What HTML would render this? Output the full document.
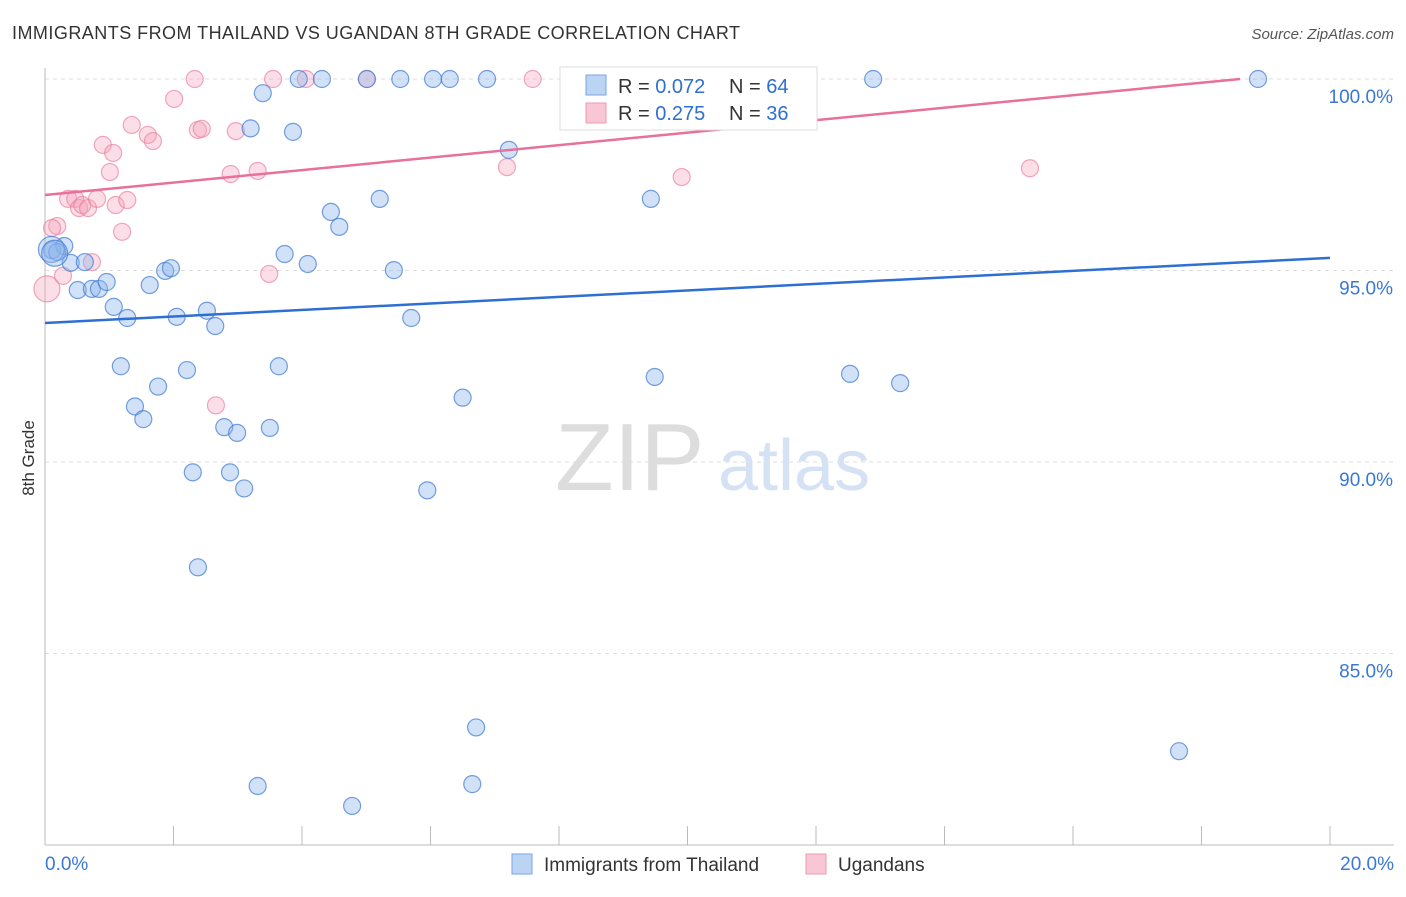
<!DOCTYPE html>
<html><head><meta charset="utf-8">
<style>
body{margin:0;background:#fff;font-family:"Liberation Sans",sans-serif;}
svg text{font-family:"Liberation Sans",sans-serif;}
</style></head>
<body>
<svg id="chart" width="1406" height="892" viewBox="0 0 1406 892">
<text x="12" y="39" font-size="18" fill="#333" textLength="728">IMMIGRANTS FROM THAILAND VS UGANDAN 8TH GRADE CORRELATION CHART</text>
<text x="1394" y="39" font-size="15" fill="#555" font-style="italic" text-anchor="end">Source: ZipAtlas.com</text>
<text x="34" y="458" font-size="17" fill="#333" text-anchor="middle" transform="rotate(-90 34 458)">8th Grade</text>
<g id="grid"></g>
<g id="axes"></g>
<text x="555" y="490" font-size="96" fill="#ddd" font-family="Liberation Serif">ZIP</text>
<text x="718" y="490" font-size="72" fill="#d4e2f4">atlas</text>
<g id="marks"></g>
<g>
<rect x="560" y="67" width="257" height="63" fill="#fff" stroke="#ddd"/>
<rect x="586" y="75" width="20" height="20" fill="#bcd4f4" stroke="#7aa6e0"/>
<text x="618" y="93" font-size="20" fill="#333">R = <tspan fill="#2f6fd0">0.072</tspan></text>
<text x="729" y="93" font-size="20" fill="#333">N = <tspan fill="#2f6fd0">64</tspan></text>
<rect x="586" y="103" width="20" height="20" fill="#f8c6d4" stroke="#ec9ab2"/>
<text x="618" y="120" font-size="20" fill="#333">R = <tspan fill="#2f6fd0">0.275</tspan></text>
<text x="729" y="120" font-size="20" fill="#333">N = <tspan fill="#2f6fd0">36</tspan></text>
</g>
<g>
<rect x="512" y="854" width="20" height="20" fill="#bcd4f4" stroke="#7aa6e0"/>
<text x="544" y="871" font-size="19" fill="#333">Immigrants from Thailand</text>
<rect x="806" y="854" width="20" height="20" fill="#f8c6d4" stroke="#ec9ab2"/>
<text x="838" y="871" font-size="19" fill="#333">Ugandans</text>
</g>
</svg>
<script>
const yTicks=[100,95,90,85];
const yTickLabels=["100.0%","95.0%","90.0%","85.0%"];
const xTickLabels=["0.0%","20.0%"];
const blueX=[0.11,0.3,0.19,0.4,0.62,0.51,0.73,0.84,0.96,1.07,1.28,1.18,1.4,1.53,1.63,1.76,1.87,1.96,2.05,2.21,2.3,2.38,2.52,2.65,2.79,2.88,2.99,3.1,3.2,3.31,3.39,3.5,3.64,3.73,3.86,3.95,4.09,4.31,4.45,4.58,4.78,5.01,5.21,5.43,5.53,5.7,5.95,6.04,6.3,6.5,6.65,6.71,6.88,7.22,8.5,9.43,9.49,11.3,11.56,12.53,12.89,13.31,17.65,18.88,0.1,0.15];
const blueY=[95.53,95.64,95.48,95.2,95.22,94.49,94.52,94.52,94.7,94.05,93.76,92.5,91.45,91.12,94.62,91.97,94.99,95.06,93.79,92.4,89.73,87.25,93.95,93.55,90.91,89.73,90.76,89.31,98.71,81.54,99.63,90.89,92.5,95.43,98.62,100,95.17,100,96.53,96.14,81.02,100,96.87,95.01,100,93.76,89.26,100,100,91.68,81.59,83.07,100,98.15,100,96.87,92.22,100,100,92.3,100,92.06,82.45,100,95.55,95.45];
const pinkX=[0.03,0.19,0.11,0.28,0.36,0.47,0.53,0.58,0.67,0.73,0.81,0.9,1.01,1.06,1.1,1.2,1.28,1.35,1.6,1.68,2.01,2.33,2.38,2.44,2.89,2.97,3.31,3.49,3.55,4.06,2.66,5.01,7.19,7.59,9.91,15.33];
const pinkY=[94.52,96.16,96.11,94.86,96.87,96.87,96.63,96.71,96.63,95.22,96.87,98.28,97.57,98.07,96.71,96.01,96.84,98.8,98.54,98.38,99.48,100,98.67,98.7,97.52,98.64,97.6,94.91,100,100,91.48,100,97.7,100,97.44,97.67];
const blueTrend=[93.63,95.33];
const pinkTrend=[96.97,100.0];
const pinkTrendEnd=18.6;

const NS="http://www.w3.org/2000/svg";
const xs=v=>45+v/20*1285;
const ys=v=>79+(100-v)*38.3;
function el(tag,attrs,parent){const e=document.createElementNS(NS,tag);for(const k in attrs)e.setAttribute(k,attrs[k]);parent.appendChild(e);return e;}
const grid=document.getElementById('grid'),axes=document.getElementById('axes'),marks=document.getElementById('marks');
yTicks.forEach((t,i)=>{
 const g=el('line',{x1:45,x2:1394,y1:ys(t),y2:ys(t),stroke:'#ddd','stroke-dasharray':'4,4'},grid);
 
 
 const tx=el('text',{x:1393,y:ys(t)+24,'font-size':19,fill:'#3a78d4','text-anchor':'end'},axes);
 tx.textContent=yTickLabels[i];
 
 
});
const ax=el('line',{x1:45,x2:45,y1:68,y2:845,stroke:'#bbb'},axes);


const bx=el('line',{x1:45,x2:1394,y1:845,y2:845,stroke:'#bbb'},axes);


for(let i=0;i<=10;i++){const t=el('line',{x1:xs(i*2),x2:xs(i*2),y1:826,y2:845,stroke:'#bbb'},axes);
 
 }
xTickLabels.forEach((l,i)=>{const t=el('text',{x:i?1394:45,y:870,'font-size':19,fill:'#3a78d4','text-anchor':i?'end':'start'},axes);t.textContent=l;
 
 });
pinkX.forEach((x,i)=>{const c=el('circle',{cx:xs(x),cy:ys(pinkY[i]),r:i===0?13:8.5,fill:'rgba(244,160,186,0.35)',stroke:'rgba(236,130,160,0.7)','stroke-width':1.2},marks);
 
 });
blueX.forEach((x,i)=>{const c=el('circle',{cx:xs(x),cy:ys(blueY[i]),r:i>=64?13:8.5,fill:'rgba(140,180,235,0.4)',stroke:'rgba(60,120,210,0.7)','stroke-width':1.2},marks);
 
 });
const bl=el('line',{x1:xs(0),y1:ys(blueTrend[0]),x2:xs(20),y2:ys(blueTrend[1]),stroke:'#2e6fd3','stroke-width':2.5},marks);


const pl=el('line',{x1:xs(0),y1:ys(pinkTrend[0]),x2:xs(pinkTrendEnd),y2:ys(pinkTrend[1]),stroke:'#e8709a','stroke-width':2.5},marks);


</script>
</body></html>
